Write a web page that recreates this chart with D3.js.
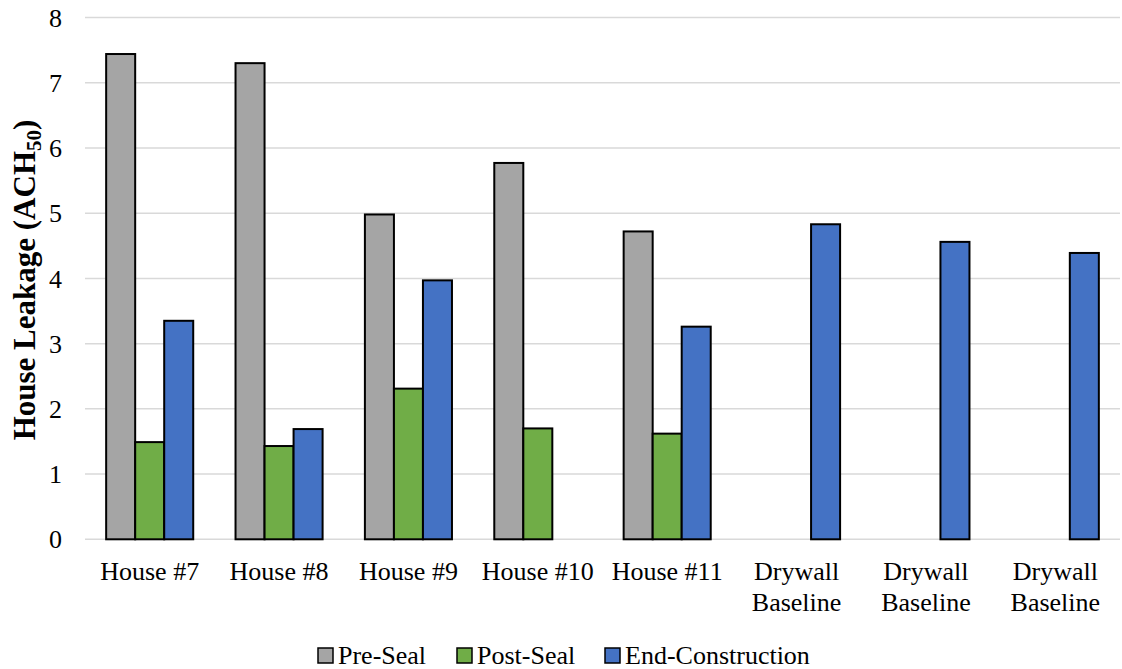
<!DOCTYPE html>
<html><head><meta charset="utf-8">
<script src="https://cdn.jsdelivr.net/npm/d3@7"></script>
<style>body{margin:0;background:#fff}svg{display:block}text{font-family:"Liberation Serif","Times New Roman",serif;fill:#000}</style>
</head><body><svg id="c" width="1122" height="669"></svg>
<script>
const categories = [["House #7"],["House #8"],["House #9"],["House #10"],["House #11"],["Drywall","Baseline"],["Drywall","Baseline"],["Drywall","Baseline"]];
const seriesNames = ["Pre-Seal","Post-Seal","End-Construction"];
const preSeal = [7.44, 7.30, 4.98, 5.77, 4.72, null, null, null];
const postSeal = [1.49, 1.43, 2.31, 1.70, 1.62, null, null, null];
const endConstruction = [3.35, 1.69, 3.97, null, 3.26, 4.83, 4.56, 4.39];
const yTicks = [0,1,2,3,4,5,6,7,8];
const colors = ["#A5A5A5","#70AD47","#4472C4"];

const svg = d3.select("#c");
const L = 85, R = 1120, T = 17.5, B = 539.3;
const x = d3.scaleBand().domain(d3.range(categories.length)).range([L, R]).paddingInner(0.327).paddingOuter(0.1635);
const x1 = d3.scaleBand().domain([0,1,2]).range([0, x.bandwidth()]);
const y = d3.scaleLinear().domain([0, 8]).range([B, T]);

// gridlines
svg.append("g").selectAll("line").data(yTicks).join("line")
  .attr("x1", L).attr("x2", R).attr("y1", d => y(d)).attr("y2", d => y(d))
  .attr("stroke", "#D9D9D9").attr("stroke-width", 1.5);

// y tick labels
svg.append("g").selectAll("text").data(yTicks).join("text")
  .attr("x", 62).attr("y", d => y(d)).attr("dy", "0.35em").attr("text-anchor", "end")
  .style("font-size", "26px").text(d => d);

// bars
const series = [preSeal, postSeal, endConstruction];
series.forEach((vals, si) => {
  svg.append("g").selectAll("rect").data(vals.map((v,i)=>({v,i})).filter(d => d.v != null)).join("rect")
    .attr("x", d => x(d.i) + x1(si)).attr("width", x1.bandwidth())
    .attr("y", d => y(d.v)).attr("height", d => y(0) - y(d.v))
    .attr("fill", colors[si]).attr("stroke", "#000").attr("stroke-width", 2);
});

// category labels
const cl = svg.append("g");
categories.forEach((lines, i) => {
  const t = cl.append("text").attr("x", x(i) + x.bandwidth()/2).attr("y", 580).attr("text-anchor","middle").style("font-size","26px");
  lines.forEach((ln, k) => t.append("tspan").attr("x", x(i) + x.bandwidth()/2).attr("dy", k ? 31 : 0).text(ln));
});

// axis title
const at = svg.append("text").attr("transform", "translate(35,280) rotate(-90)").attr("text-anchor","middle")
  .style("font-size","31px").style("font-weight","bold");
at.append("tspan").text("House Leakage (ACH");
at.append("tspan").attr("dy", 6).style("font-size","21px").text("50");
at.append("tspan").attr("dy", -6).text(")");

// legend
const legX = [318, 457, 605];
const lg = svg.append("g");
seriesNames.forEach((n, i) => {
  lg.append("rect").attr("x", legX[i]).attr("y", 648).attr("width", 15).attr("height", 15)
    .attr("fill", colors[i]).attr("stroke", "#000").attr("stroke-width", 1.5);
  lg.append("text").attr("x", legX[i] + 20).attr("y", 664).style("font-size","26px").text(n);
});
</script></body></html>
